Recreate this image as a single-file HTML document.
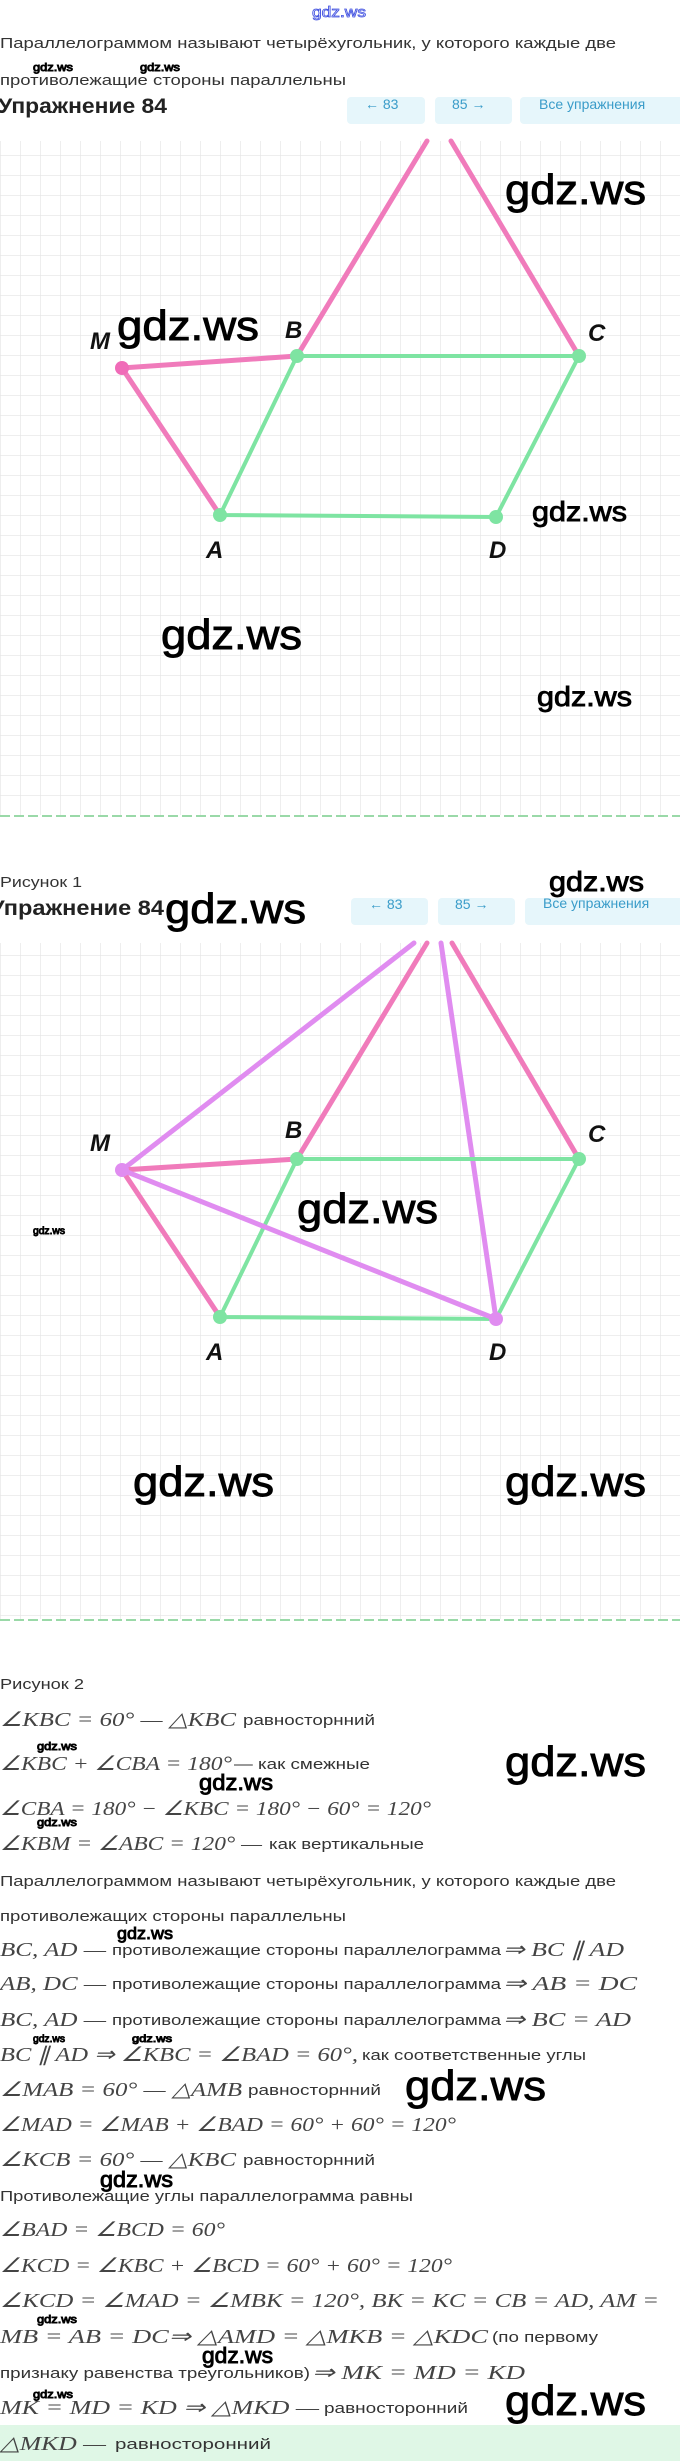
<!DOCTYPE html>
<html><head><meta charset="utf-8"><style>html,body{margin:0;padding:0;background:#fff}svg{display:block}</style></head><body>
<svg width="680" height="2461" viewBox="0 0 680 2461" xmlns="http://www.w3.org/2000/svg">
<defs>
<pattern id="g" x="0" y="15" width="20" height="20" patternUnits="userSpaceOnUse">
<path d="M0 0H20M0 0V20" stroke="#e4e4e4" stroke-width="1.3" fill="none"/>
</pattern>
</defs>
<style>
.s{font-family:"Liberation Sans",sans-serif;font-size:15px;fill:#333}
.m{font-family:"Liberation Serif",serif;font-style:italic;font-size:20px;fill:#444}
.w{font-family:"Liberation Sans",sans-serif;fill:#000;stroke:#000;stroke-width:0.9}
.l{font-family:"Liberation Sans",sans-serif;font-weight:bold;font-style:italic;font-size:24px;fill:#111}
.h{font-family:"Liberation Sans",sans-serif;font-weight:bold;font-size:21px;fill:#222}
.b{font-family:"Liberation Sans",sans-serif;font-size:14px;fill:#3a9cc9}
</style>

<!-- Section 1 -->
<text x="312" y="17" font-family="Liberation Sans" font-size="15" fill="#fff" stroke="#4050e0" stroke-width="0.8" textLength="54" lengthAdjust="spacingAndGlyphs">gdz.ws</text>
<text class="s" x="0" y="48" textLength="616" lengthAdjust="spacingAndGlyphs">Параллелограммом называют четырёхугольник, у которого каждые две</text>
<text class="w" x="33" y="71" font-size="11" stroke-width="0.2" textLength="40" lengthAdjust="spacingAndGlyphs">gdz.ws</text>
<text class="w" x="140" y="71" font-size="11" stroke-width="0.2" textLength="40" lengthAdjust="spacingAndGlyphs">gdz.ws</text>
<text class="s" x="0" y="85" textLength="346" lengthAdjust="spacingAndGlyphs">противолежащие стороны параллельны</text>
<text class="h" x="-2" y="113" textLength="169" lengthAdjust="spacingAndGlyphs">Упражнение 84</text>
<rect x="347" y="97" width="78" height="27" rx="4" fill="#e6f6fb"/>
<rect x="435" y="97" width="77" height="27" rx="4" fill="#e6f6fb"/>
<rect x="520" y="97" width="165" height="27" rx="4" fill="#e6f6fb"/>
<text class="b" x="365" y="109">← 83</text>
<text class="b" x="452" y="109">85 →</text>
<text class="b" x="539" y="109">Все упражнения</text>
<rect x="0" y="141" width="680" height="674" fill="url(#g)"/>
<line x1="0" y1="816" x2="680" y2="816" stroke="#9ad9a8" stroke-width="2" stroke-dasharray="10 4"/>
<g stroke-linecap="round">
<line x1="297" y1="356" x2="427" y2="141" stroke="#f07bbb" stroke-width="5"/>
<line x1="579" y1="356" x2="451" y2="141" stroke="#f07bbb" stroke-width="5"/>
<line x1="122" y1="368" x2="297" y2="356" stroke="#f07bbb" stroke-width="5"/>
<line x1="122" y1="368" x2="220" y2="515" stroke="#f07bbb" stroke-width="5"/>
<polygon points="297,356 579,356 496,517 220,515" fill="none" stroke="#7ee4a2" stroke-width="4"/>
</g>
<circle cx="122" cy="368" r="7" fill="#f06bb8"/>
<circle cx="297" cy="356" r="7" fill="#7ee4a2"/>
<circle cx="579" cy="356" r="7" fill="#7ee4a2"/>
<circle cx="220" cy="515" r="7" fill="#7ee4a2"/>
<circle cx="496" cy="517" r="7" fill="#7ee4a2"/>
<text class="l" x="90" y="349">M</text>
<text class="l" x="285" y="338">B</text>
<text class="l" x="588" y="341">C</text>
<text class="l" x="206" y="558">A</text>
<text class="l" x="489" y="558">D</text>
<text class="w" x="505" y="204" font-size="42" textLength="141" lengthAdjust="spacingAndGlyphs">gdz.ws</text>
<text class="w" x="117" y="340" font-size="42" textLength="142" lengthAdjust="spacingAndGlyphs">gdz.ws</text>
<text class="w" x="532" y="521" font-size="28" textLength="95" lengthAdjust="spacingAndGlyphs">gdz.ws</text>
<text class="w" x="161" y="649" font-size="42" textLength="141" lengthAdjust="spacingAndGlyphs">gdz.ws</text>
<text class="w" x="537" y="706" font-size="28" textLength="95" lengthAdjust="spacingAndGlyphs">gdz.ws</text>

<!-- Section 2 -->
<text class="s" x="0" y="887" textLength="82" lengthAdjust="spacingAndGlyphs">Рисунок 1</text>
<rect x="351" y="898" width="77" height="27" rx="4" fill="#e6f6fb"/>
<rect x="438" y="898" width="77" height="27" rx="4" fill="#e6f6fb"/>
<rect x="525" y="898" width="160" height="27" rx="4" fill="#e6f6fb"/>
<text class="b" x="369" y="909">← 83</text>
<text class="b" x="455" y="909">85 →</text>
<text class="b" x="543" y="908">Все упражнения</text>
<text class="w" x="549" y="891" font-size="28" textLength="95" lengthAdjust="spacingAndGlyphs">gdz.ws</text>
<text class="h" x="-10" y="915" textLength="174" lengthAdjust="spacingAndGlyphs">Упражнение 84</text>
<text class="w" x="165" y="923" font-size="42" textLength="141" lengthAdjust="spacingAndGlyphs">gdz.ws</text>
<rect x="0" y="943" width="680" height="676" fill="url(#g)"/>
<line x1="0" y1="1620" x2="680" y2="1620" stroke="#9ad9a8" stroke-width="2" stroke-dasharray="10 4"/>
<g stroke-linecap="round">
<line x1="122" y1="1170" x2="414" y2="943" stroke="#e08cf0" stroke-width="5"/>
<line x1="496" y1="1319" x2="441" y2="943" stroke="#e08cf0" stroke-width="5"/>
<line x1="297" y1="1159" x2="427" y2="943" stroke="#f07bbb" stroke-width="5"/>
<line x1="579" y1="1159" x2="452" y2="943" stroke="#f07bbb" stroke-width="5"/>
<line x1="122" y1="1170" x2="297" y2="1159" stroke="#f07bbb" stroke-width="5"/>
<line x1="122" y1="1170" x2="220" y2="1317" stroke="#f07bbb" stroke-width="5"/>
<polygon points="297,1159 579,1159 496,1319 220,1317" fill="none" stroke="#7ee4a2" stroke-width="4"/>
<line x1="122" y1="1170" x2="496" y2="1319" stroke="#e08cf0" stroke-width="5"/>
</g>
<circle cx="122" cy="1170" r="7" fill="#e08cf0"/>
<circle cx="297" cy="1159" r="7" fill="#7ee4a2"/>
<circle cx="579" cy="1159" r="7" fill="#7ee4a2"/>
<circle cx="220" cy="1317" r="7" fill="#7ee4a2"/>
<circle cx="496" cy="1319" r="7" fill="#e08cf0"/>
<text class="l" x="90" y="1151">M</text>
<text class="l" x="285" y="1138">B</text>
<text class="l" x="588" y="1142">C</text>
<text class="l" x="206" y="1360">A</text>
<text class="l" x="489" y="1360">D</text>
<text class="w" x="33" y="1234" font-size="10" stroke-width="0.2" textLength="32" lengthAdjust="spacingAndGlyphs">gdz.ws</text>
<text class="w" x="297" y="1223" font-size="42" textLength="141" lengthAdjust="spacingAndGlyphs">gdz.ws</text>
<text class="w" x="133" y="1496" font-size="42" textLength="141" lengthAdjust="spacingAndGlyphs">gdz.ws</text>
<text class="w" x="505" y="1496" font-size="42" textLength="141" lengthAdjust="spacingAndGlyphs">gdz.ws</text>

<!-- Section 3 -->
<text class="s" x="0" y="1689" textLength="84" lengthAdjust="spacingAndGlyphs">Рисунок 2</text>
<text class="m" x="0" y="1726" textLength="236" lengthAdjust="spacingAndGlyphs">∠KBC =  60° — △KBC</text>
<text class="s" x="243" y="1725" textLength="132" lengthAdjust="spacingAndGlyphs">равносторнний</text>
<text class="w" x="37" y="1750" font-size="11" stroke-width="0.2" textLength="40" lengthAdjust="spacingAndGlyphs">gdz.ws</text>
<text class="m" x="0" y="1770" textLength="232" lengthAdjust="spacingAndGlyphs">∠KBC + ∠CBA = 180°</text>
<text class="s" x="234" y="1769" textLength="136" lengthAdjust="spacingAndGlyphs">— как смежные</text>
<text class="w" x="199" y="1790" font-size="22" stroke-width="0.5" textLength="74" lengthAdjust="spacingAndGlyphs">gdz.ws</text>
<text class="w" x="505" y="1776" font-size="42" textLength="141" lengthAdjust="spacingAndGlyphs">gdz.ws</text>
<text class="m" x="0" y="1815" textLength="431" lengthAdjust="spacingAndGlyphs">∠CBA = 180° − ∠KBC = 180° − 60° = 120°</text>
<text class="w" x="37" y="1826" font-size="11" stroke-width="0.2" textLength="40" lengthAdjust="spacingAndGlyphs">gdz.ws</text>
<text class="m" x="0" y="1850" textLength="262" lengthAdjust="spacingAndGlyphs">∠KBM = ∠ABC = 120° —</text>
<text class="s" x="269" y="1849" textLength="155" lengthAdjust="spacingAndGlyphs">как вертикальные</text>
<text class="s" x="0" y="1886" textLength="616" lengthAdjust="spacingAndGlyphs">Параллелограммом называют четырёхугольник, у которого каждые две</text>
<text class="s" x="0" y="1921" textLength="346" lengthAdjust="spacingAndGlyphs">противолежащих стороны параллельны</text>
<text class="w" x="117" y="1939" font-size="17" stroke-width="0.4" textLength="56" lengthAdjust="spacingAndGlyphs">gdz.ws</text>

<text class="m" x="0" y="1956" textLength="106" lengthAdjust="spacingAndGlyphs">BC,  AD —</text>
<text class="s" x="112" y="1955" textLength="389" lengthAdjust="spacingAndGlyphs">противолежащие стороны параллелограмма</text>
<text class="m" x="503" y="1956" textLength="121" lengthAdjust="spacingAndGlyphs">⇒ BC ∥ AD</text>

<text class="m" x="0" y="1990" textLength="106" lengthAdjust="spacingAndGlyphs">AB,  DC —</text>
<text class="s" x="112" y="1989" textLength="389" lengthAdjust="spacingAndGlyphs">противолежащие стороны параллелограмма</text>
<text class="m" x="503" y="1990" textLength="134" lengthAdjust="spacingAndGlyphs">⇒  AB = DC</text>

<text class="m" x="0" y="2026" textLength="106" lengthAdjust="spacingAndGlyphs">BC,  AD —</text>
<text class="s" x="112" y="2025" textLength="389" lengthAdjust="spacingAndGlyphs">противолежащие стороны параллелограмма</text>
<text class="m" x="503" y="2026" textLength="128" lengthAdjust="spacingAndGlyphs">⇒ BC = AD</text>

<text class="w" x="33" y="2042" font-size="10" stroke-width="0.2" textLength="32" lengthAdjust="spacingAndGlyphs">gdz.ws</text>
<text class="w" x="132" y="2042" font-size="10" stroke-width="0.2" textLength="40" lengthAdjust="spacingAndGlyphs">gdz.ws</text>
<text class="m" x="0" y="2061" textLength="358" lengthAdjust="spacingAndGlyphs">BC ∥ AD ⇒ ∠KBC = ∠BAD = 60°,</text>
<text class="s" x="362" y="2060" textLength="224" lengthAdjust="spacingAndGlyphs">как соответственные углы</text>

<text class="m" x="0" y="2096" textLength="242" lengthAdjust="spacingAndGlyphs">∠MAB =  60° — △AMB</text>
<text class="s" x="248" y="2095" textLength="133" lengthAdjust="spacingAndGlyphs">равносторнний</text>
<text class="w" x="405" y="2100" font-size="42" textLength="141" lengthAdjust="spacingAndGlyphs">gdz.ws</text>
<text class="m" x="0" y="2131" textLength="456" lengthAdjust="spacingAndGlyphs">∠MAD = ∠MAB + ∠BAD = 60° + 60° = 120°</text>
<text class="m" x="0" y="2166" textLength="236" lengthAdjust="spacingAndGlyphs">∠KCB =  60° — △KBC</text>
<text class="s" x="243" y="2165" textLength="132" lengthAdjust="spacingAndGlyphs">равносторнний</text>
<text class="w" x="100" y="2187" font-size="22" stroke-width="0.5" textLength="73" lengthAdjust="spacingAndGlyphs">gdz.ws</text>
<text class="s" x="0" y="2201" textLength="413" lengthAdjust="spacingAndGlyphs">Противолежащие углы параллелограмма равны</text>
<text class="m" x="0" y="2236" textLength="225" lengthAdjust="spacingAndGlyphs">∠BAD = ∠BCD = 60°</text>
<text class="m" x="0" y="2272" textLength="452" lengthAdjust="spacingAndGlyphs">∠KCD = ∠KBC + ∠BCD = 60° + 60° = 120°</text>
<text class="m" x="0" y="2307" textLength="659" lengthAdjust="spacingAndGlyphs">∠KCD = ∠MAD = ∠MBK = 120°, BK = KC = CB = AD, AM =</text>
<text class="w" x="37" y="2323" font-size="11" stroke-width="0.2" textLength="40" lengthAdjust="spacingAndGlyphs">gdz.ws</text>
<text class="m" x="0" y="2343" textLength="488" lengthAdjust="spacingAndGlyphs">MB = AB = DC⇒ △AMD = △MKB = △KDC</text>
<text class="s" x="492" y="2342" textLength="106" lengthAdjust="spacingAndGlyphs">(по первому</text>
<text class="w" x="202" y="2363" font-size="22" stroke-width="0.5" textLength="71" lengthAdjust="spacingAndGlyphs">gdz.ws</text>
<text class="s" x="0" y="2378" textLength="310" lengthAdjust="spacingAndGlyphs">признаку равенства треугольников)</text>
<text class="m" x="312" y="2379" textLength="213" lengthAdjust="spacingAndGlyphs">⇒ MK = MD = KD</text>
<text class="w" x="33" y="2398" font-size="11" stroke-width="0.2" textLength="40" lengthAdjust="spacingAndGlyphs">gdz.ws</text>
<text class="m" x="0" y="2414" textLength="319" lengthAdjust="spacingAndGlyphs">MK = MD = KD ⇒ △MKD —</text>
<text class="s" x="324" y="2413" textLength="144" lengthAdjust="spacingAndGlyphs">равносторонний</text>
<text class="w" x="505" y="2415" font-size="42" textLength="141" lengthAdjust="spacingAndGlyphs">gdz.ws</text>
<rect x="0" y="2425" width="680" height="36" fill="#dff7e6"/>
<text class="m" x="0" y="2450" textLength="106" lengthAdjust="spacingAndGlyphs">△MKD —</text>
<text class="s" x="115" y="2449" textLength="156" lengthAdjust="spacingAndGlyphs">равносторонний</text>
</svg>
</body></html>
